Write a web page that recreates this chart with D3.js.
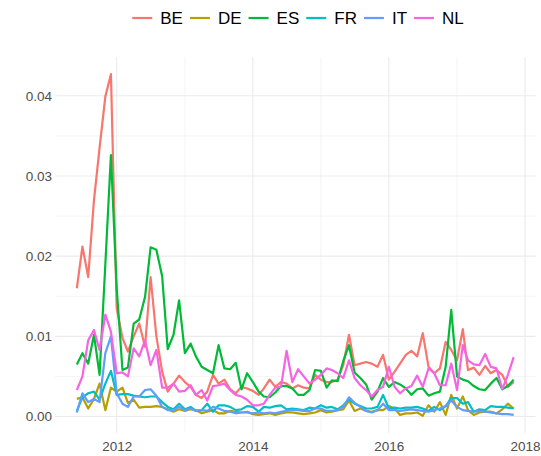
<!DOCTYPE html>
<html>
<head>
	<script src="https://cdnjs.cloudflare.com/ajax/libs/d3/7.8.2/d3.min.js"></script>
	<style>
		body {
			margin: 0 ;
			background: white ;
		}
		svg {
			display: block ;
			font-family: "Liberation Sans", Arial, sans-serif ;
		}
	</style>
</head>
<body>
	<svg id="canvas"></svg>
</body>
<script>
	// monthly values, June 2011 to November 2017
	let startMonth = new Date( 2011, 5, 1 ) ;
	let countries = [ "BE", "DE", "ES", "FR", "IT", "NL" ] ;
	let colours = [ "#F8766D", "#B79F00", "#00BA38", "#00BFC4", "#619CFF", "#F564E3" ] ;

	let BE = [
		0.0160, 0.0212, 0.0174, 0.0270, 0.0335, 0.0399, 0.0427, 0.0135, 0.0098, 0.0081,
		0.0100, 0.0116, 0.0087, 0.0174, 0.0100, 0.0056, 0.0031, 0.0041, 0.0051, 0.0043,
		0.0037, 0.0027, 0.0023, 0.0031, 0.0052, 0.0041, 0.0046, 0.0034, 0.0029, 0.0037,
		0.0035, 0.0032, 0.0027, 0.0035, 0.0046, 0.0037, 0.0043, 0.0041, 0.0035, 0.0039,
		0.0036, 0.0035, 0.0052, 0.0046, 0.0043, 0.0043, 0.0046, 0.0064, 0.0102, 0.0064,
		0.0066, 0.0068, 0.0066, 0.0062, 0.0077, 0.0046, 0.0056, 0.0066, 0.0077, 0.0082,
		0.0075, 0.0104, 0.0062, 0.0054, 0.0060, 0.0093, 0.0083, 0.0070, 0.0109, 0.0058,
		0.0061, 0.0052, 0.0063, 0.0054, 0.0058, 0.0052, 0.0037, 0.0043
	] ;
	let DE = [
		0.0022, 0.0024, 0.0010, 0.0022, 0.0041, 0.0008, 0.0036, 0.0031, 0.0036, 0.0017,
		0.0021, 0.0011, 0.0012, 0.0012, 0.0013, 0.0012, 0.0009, 0.0006, 0.0009, 0.0007,
		0.0009, 0.0008, 0.0004, 0.0006, 0.0008, 0.0004, 0.0004, 0.0007, 0.0006, 0.0005,
		0.0006, 0.0003, 0.0002, 0.0003, 0.0004, 0.0002, 0.0004, 0.0005, 0.0005, 0.0004,
		0.0003, 0.0004, 0.0005, 0.0008, 0.0005, 0.0006, 0.0008, 0.0009, 0.0020, 0.0007,
		0.0010, 0.0007, 0.0006, 0.0008, 0.0008, 0.0013, 0.0010, 0.0002, 0.0004, 0.0004,
		0.0005, 0.0001, 0.0014, 0.0006, 0.0018, 0.0002, 0.0027, 0.0010, 0.0025, 0.0008,
		0.0002, 0.0005, 0.0006, 0.0006, 0.0004, 0.0009, 0.0016, 0.0010
	] ;
	let ES = [
		0.0065, 0.0079, 0.0066, 0.0102, 0.0052, 0.0190, 0.0326, 0.0160, 0.0058, 0.0061,
		0.0116, 0.0121, 0.0149, 0.0211, 0.0208, 0.0175, 0.0084, 0.0102, 0.0145, 0.0079,
		0.0091, 0.0075, 0.0062, 0.0058, 0.0054, 0.0089, 0.0060, 0.0059, 0.0067, 0.0034,
		0.0054, 0.0043, 0.0031, 0.0025, 0.0024, 0.0030, 0.0038, 0.0038, 0.0035, 0.0027,
		0.0027, 0.0033, 0.0058, 0.0057, 0.0036, 0.0045, 0.0044, 0.0069, 0.0089, 0.0055,
		0.0048, 0.0040, 0.0021, 0.0031, 0.0048, 0.0037, 0.0043, 0.0040, 0.0035, 0.0027,
		0.0034, 0.0035, 0.0026, 0.0029, 0.0031, 0.0062, 0.0133, 0.0050, 0.0046, 0.0044,
		0.0038, 0.0034, 0.0033, 0.0041, 0.0048, 0.0034, 0.0038, 0.0046
	] ;
	let FR = [
		0.0007, 0.0024, 0.0029, 0.0031, 0.0021, 0.0041, 0.0057, 0.0027, 0.0028, 0.0028,
		0.0026, 0.0025, 0.0024, 0.0025, 0.0025, 0.0018, 0.0012, 0.0009, 0.0016, 0.0009,
		0.0012, 0.0007, 0.0008, 0.0016, 0.0006, 0.0014, 0.0014, 0.0012, 0.0008, 0.0009,
		0.0013, 0.0012, 0.0006, 0.0012, 0.0011, 0.0013, 0.0014, 0.0009, 0.0010, 0.0009,
		0.0008, 0.0011, 0.0010, 0.0014, 0.0011, 0.0012, 0.0009, 0.0014, 0.0021, 0.0016,
		0.0013, 0.0010, 0.0010, 0.0012, 0.0027, 0.0010, 0.0011, 0.0010, 0.0011, 0.0011,
		0.0012, 0.0010, 0.0007, 0.0012, 0.0008, 0.0013, 0.0023, 0.0023, 0.0016, 0.0018,
		0.0006, 0.0009, 0.0008, 0.0013, 0.0012, 0.0012, 0.0011, 0.0010
	] ;
	let IT = [
		0.0005, 0.0029, 0.0018, 0.0022, 0.0018, 0.0079, 0.0100, 0.0029, 0.0016, 0.0012,
		0.0025, 0.0025, 0.0033, 0.0034, 0.0026, 0.0012, 0.0008, 0.0008, 0.0012, 0.0008,
		0.0010, 0.0007, 0.0008, 0.0007, 0.0012, 0.0010, 0.0007, 0.0006, 0.0004, 0.0005,
		0.0005, 0.0004, 0.0005, 0.0004, 0.0005, 0.0004, 0.0006, 0.0007, 0.0008, 0.0008,
		0.0007, 0.0007, 0.0010, 0.0010, 0.0007, 0.0007, 0.0008, 0.0012, 0.0024, 0.0017,
		0.0012, 0.0007, 0.0005, 0.0008, 0.0016, 0.0008, 0.0008, 0.0007, 0.0008, 0.0009,
		0.0008, 0.0007, 0.0006, 0.0008, 0.0010, 0.0013, 0.0020, 0.0012, 0.0008, 0.0007,
		0.0006, 0.0007, 0.0006, 0.0005, 0.0004, 0.0003, 0.0003, 0.0002
	] ;
	let NL = [
		0.0033, 0.0050, 0.0095, 0.0108, 0.0083, 0.0127, 0.0106, 0.0054, 0.0055, 0.0050,
		0.0085, 0.0075, 0.0095, 0.0064, 0.0083, 0.0036, 0.0036, 0.0041, 0.0031, 0.0032,
		0.0039, 0.0027, 0.0033, 0.0020, 0.0038, 0.0039, 0.0041, 0.0033, 0.0027, 0.0025,
		0.0021, 0.0014, 0.0014, 0.0016, 0.0027, 0.0036, 0.0037, 0.0082, 0.0043, 0.0059,
		0.0050, 0.0041, 0.0046, 0.0052, 0.0060, 0.0058, 0.0054, 0.0048, 0.0070, 0.0048,
		0.0039, 0.0033, 0.0025, 0.0033, 0.0037, 0.0062, 0.0037, 0.0029, 0.0035, 0.0038,
		0.0051, 0.0037, 0.0060, 0.0054, 0.0039, 0.0039, 0.0066, 0.0033, 0.0089, 0.0070,
		0.0065, 0.0064, 0.0078, 0.0062, 0.0060, 0.0034, 0.0052, 0.0074
	] ;

	let xMajor = [ 2012, 2014, 2016, 2018 ] ;
	let xMinor = [ 2013, 2015, 2017 ] ;
	let yMajor = [ 0, 0.01, 0.02, 0.03, 0.04 ] ;
	let yMinor = [ 0.005, 0.015, 0.025, 0.035 ] ;
</script>
<script>
	let values = [ BE, DE, ES, FR, IT, NL ] ;
	let series = countries.map( ( c, k ) => ( {
		name: c,
		colour: colours[k],
		points: values[k].map( ( v, i ) => ( { date: d3.timeMonth.offset( startMonth, i ), value: v } ) )
	} ) ) ;

	let geom = {
		width: 541,
		height: 456,
		panel: { left: 55, right: 535.5, top: 57.1, bottom: 432.8 }
	} ;

	// ggplot style 5% expansion on both axes
	let allPoints = series.flatMap( s => s.points ) ;
	let dExt = d3.extent( allPoints, p => p.date ) ;
	let dPad = ( dExt[1] - dExt[0] ) * 0.05 ;
	let vExt = d3.extent( allPoints, p => p.value ) ;
	let vPad = ( vExt[1] - vExt[0] ) * 0.05 ;

	let scales = {
		x: d3.scaleTime()
			.domain( [ new Date( +dExt[0] - dPad ), new Date( +dExt[1] + dPad ) ] )
			.range( [ geom.panel.left, geom.panel.right ] ),
		y: d3.scaleLinear()
			.domain( [ vExt[0] - vPad, vExt[1] + vPad ] )
			.range( [ geom.panel.bottom, geom.panel.top ] )
	} ;
	let yearDate = y => new Date( y, 0, 1 ) ;

	let svg = d3.select( 'svg' )
		.attr( 'width', geom.width )
		.attr( 'height', geom.height ) ;

	// grid
	let grid = svg.append( 'g' ).attr( 'class', 'grid' ) ;
	grid.selectAll( 'line.ymin' ).data( yMinor ).join( 'line' )
		.attr( 'x1', geom.panel.left ).attr( 'x2', geom.panel.right )
		.attr( 'y1', d => scales.y( d ) ).attr( 'y2', d => scales.y( d ) )
		.attr( 'stroke', '#EBEBEB' ).attr( 'stroke-width', 0.55 ) ;
	grid.selectAll( 'line.xmin' ).data( xMinor ).join( 'line' )
		.attr( 'y1', geom.panel.top ).attr( 'y2', geom.panel.bottom )
		.attr( 'x1', d => scales.x( yearDate( d ) ) ).attr( 'x2', d => scales.x( yearDate( d ) ) )
		.attr( 'stroke', '#EBEBEB' ).attr( 'stroke-width', 0.55 ) ;
	grid.selectAll( 'line.ymaj' ).data( yMajor ).join( 'line' )
		.attr( 'x1', geom.panel.left ).attr( 'x2', geom.panel.right )
		.attr( 'y1', d => scales.y( d ) ).attr( 'y2', d => scales.y( d ) )
		.attr( 'stroke', '#EBEBEB' ).attr( 'stroke-width', 1.1 ) ;
	grid.selectAll( 'line.xmaj' ).data( xMajor ).join( 'line' )
		.attr( 'y1', geom.panel.top ).attr( 'y2', geom.panel.bottom )
		.attr( 'x1', d => scales.x( yearDate( d ) ) ).attr( 'x2', d => scales.x( yearDate( d ) ) )
		.attr( 'stroke', '#EBEBEB' ).attr( 'stroke-width', 1.1 ) ;

	// axes, no lines or ticks, just labels
	let xaxis = svg.append( 'g' )
		.attr( 'transform', 'translate(0,' + geom.panel.bottom + ')' )
		.call( d3.axisBottom( scales.x )
			.tickValues( xMajor.map( yearDate ) )
			.tickFormat( d3.timeFormat( '%Y' ) )
			.tickSize( 0 ).tickPadding( 9 ) ) ;
	let yaxis = svg.append( 'g' )
		.attr( 'transform', 'translate(' + geom.panel.left + ',0)' )
		.call( d3.axisLeft( scales.y )
			.tickValues( yMajor )
			.tickFormat( d3.format( '.2f' ) )
			.tickSize( 0 ).tickPadding( 3 ) ) ;
	svg.selectAll( '.domain' ).remove() ;
	svg.selectAll( '.tick text' )
		.attr( 'fill', '#4D4D4D' )
		.style( 'font-size', '13.5px' )
		.style( 'font-family', '"Liberation Sans", Arial, sans-serif' ) ;

	// lines
	let lf = d3.line()
		.x( p => scales.x( p.date ) )
		.y( p => scales.y( p.value ) ) ;
	svg.append( 'g' ).selectAll( 'path' ).data( series ).join( 'path' )
		.attr( 'd', s => lf( s.points ) )
		.attr( 'fill', 'none' )
		.attr( 'stroke', s => s.colour )
		.attr( 'stroke-width', 2.2 )
		.attr( 'stroke-linejoin', 'round' ) ;

	// legend on top, centred
	let legend = svg.append( 'g' ).attr( 'class', 'legend' ) ;
	let keyW = 20, keyGap = 8, itemGap = 7, legendY = 18 ;
	let items = legend.selectAll( 'g' ).data( series ).join( 'g' ) ;
	items.append( 'line' )
		.attr( 'x1', 0 ).attr( 'x2', keyW )
		.attr( 'y1', legendY ).attr( 'y2', legendY )
		.attr( 'stroke', s => s.colour )
		.attr( 'stroke-width', 2.2 ) ;
	items.append( 'text' )
		.attr( 'x', keyW + keyGap )
		.attr( 'y', legendY )
		.attr( 'dy', '0.36em' )
		.style( 'font-size', '17px' )
		.attr( 'fill', '#000000' )
		.text( s => s.name ) ;
	let offset = 0 ;
	let widths = [] ;
	items.each( function( s ) {
		let w = keyW + keyGap + this.querySelector( 'text' ).getComputedTextLength() ;
		widths.push( w ) ;
	} ) ;
	let total = d3.sum( widths ) + itemGap * ( widths.length - 1 ) ;
	let start = 298 - total / 2 ;
	items.attr( 'transform', ( s, i ) => {
		let t = 'translate(' + ( start + offset ) + ',0)' ;
		offset += widths[i] + itemGap ;
		return t ;
	} ) ;
</script>
</html>
